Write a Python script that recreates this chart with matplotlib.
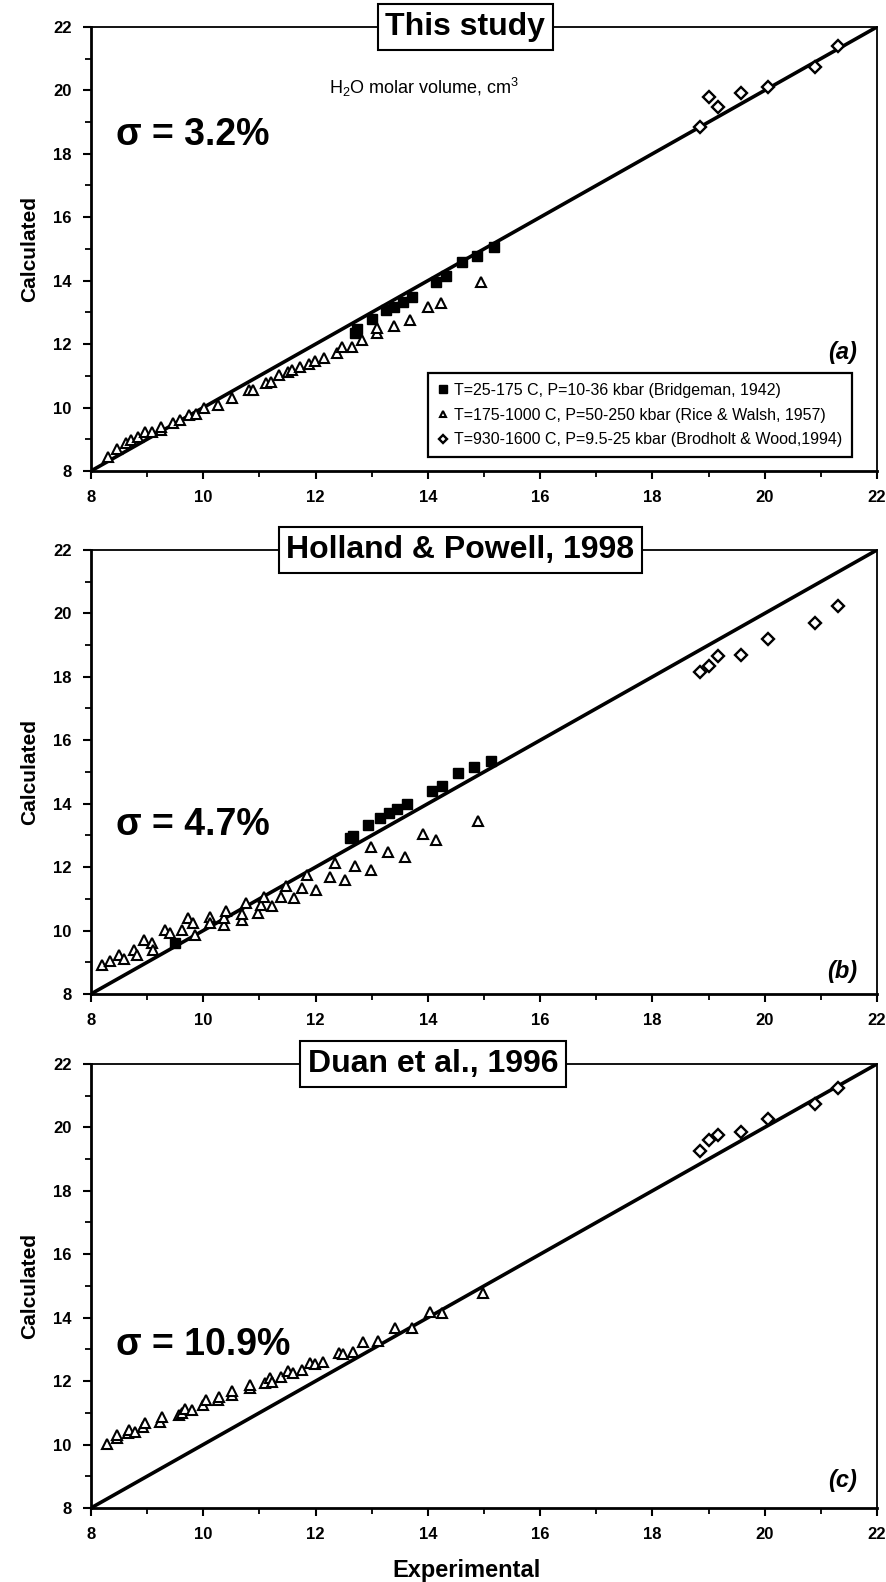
import numpy as np
import matplotlib
matplotlib.use("Agg")
import matplotlib.pyplot as plt
from matplotlib.ticker import MultipleLocator

plt.rcParams['font.family'] = ['Liberation Sans', 'DejaVu Sans']
plt.rcParams['mathtext.default'] = 'regular'

# // Experimental vs calculated H2O molar volume, cm3 //

# Bridgeman, 1942 (filled squares)
sq_x_a = [12.71, 12.74, 13.01, 13.25, 13.39, 13.56, 13.72, 14.15, 14.33, 14.6, 14.88, 15.18]
sq_y_a = [12.34, 12.47, 12.78, 13.08, 13.18, 13.34, 13.5, 13.97, 14.15, 14.58, 14.79, 15.05]
sq_x_b = [12.62, 12.66, 12.93, 13.15, 13.3, 13.45, 13.62, 14.07, 14.25, 14.53, 14.83, 15.13, 9.49]
sq_y_b = [12.91, 12.98, 13.33, 13.54, 13.72, 13.82, 13.99, 14.41, 14.56, 14.96, 15.17, 15.35, 9.62]

# Rice & Walsh, 1957 (open triangles)
tri_x_a = [8.3, 8.46, 8.63, 8.72, 8.84, 8.96, 9.08, 9.25, 9.25, 9.46, 9.58, 9.75, 9.87,
           10.02, 10.26, 10.52, 10.82, 10.88, 11.11, 11.2, 11.35, 11.5, 11.58, 11.73,
           11.88, 11.99, 12.15, 12.38, 12.47, 12.65, 12.83, 13.1, 13.1, 13.39, 13.68,
           14.01, 14.23, 14.94]
tri_y_a = [8.45, 8.7, 8.87, 8.98, 9.08, 9.22, 9.24, 9.3, 9.4, 9.5, 9.61, 9.76, 9.79,
           9.97, 10.08, 10.29, 10.55, 10.55, 10.76, 10.81, 11.03, 11.13, 11.18, 11.29,
           11.36, 11.47, 11.55, 11.71, 11.92, 11.92, 12.13, 12.34, 12.5, 12.57, 12.76,
           13.18, 13.31, 13.97]
tri_x_b = [8.2, 8.33, 8.5, 8.58, 8.76, 8.82, 8.94, 9.08, 9.11, 9.32, 9.4, 9.62, 9.73,
           9.82, 9.85, 10.12, 10.12, 10.36, 10.36, 10.4, 10.69, 10.69, 10.76, 10.97,
           11.02, 11.08, 11.23, 11.38, 11.47, 11.61, 11.76, 11.85, 12.01, 12.26, 12.35,
           12.52, 12.71, 12.99, 12.99, 13.29, 13.59, 13.92, 14.14, 14.9]
tri_y_b = [8.92, 9.05, 9.23, 9.1, 9.39, 9.23, 9.7, 9.6, 9.39, 10.02, 9.91, 10.02, 10.39,
           10.23, 9.86, 10.44, 10.23, 10.18, 10.39, 10.63, 10.33, 10.52, 10.86, 10.54,
           10.8, 11.07, 10.77, 11.07, 11.4, 11.01, 11.33, 11.75, 11.28, 11.68, 12.14,
           11.6, 12.03, 12.62, 11.92, 12.49, 12.33, 13.04, 12.85, 13.46]
tri_x_c = [8.28, 8.46, 8.47, 8.66, 8.67, 8.78, 8.93, 8.96, 9.23, 9.26, 9.56, 9.62, 9.67,
           9.79, 10.0, 10.05, 10.27, 10.28, 10.51, 10.52, 10.83, 10.84, 11.1, 11.18,
           11.22, 11.38, 11.51, 11.6, 11.75, 11.9, 11.99, 12.14, 12.41, 12.49, 12.66,
           12.85, 13.12, 13.42, 13.71, 14.03, 14.26, 14.98]
tri_y_c = [10.02, 10.2, 10.3, 10.35, 10.45, 10.4, 10.56, 10.67, 10.72, 10.88, 10.93,
           10.98, 11.11, 11.09, 11.25, 11.4, 11.4, 11.5, 11.56, 11.7, 11.77, 11.88, 11.93,
           12.09, 11.98, 12.14, 12.33, 12.25, 12.35, 12.58, 12.54, 12.61, 12.9, 12.85,
           12.93, 13.24, 13.27, 13.66, 13.66, 14.19, 14.16, 14.79]

# Brodholt & Wood, 1994 (open diamonds)
dia_x = [18.85, 19.0, 19.17, 19.58, 20.05, 20.9, 21.3]
dia_y_a = [18.85, 19.8, 19.48, 19.92, 20.12, 20.75, 21.4]
dia_y_b = [18.15, 18.35, 18.65, 18.7, 19.2, 19.7, 20.22]
dia_y_c = [19.25, 19.6, 19.75, 19.85, 20.25, 20.75, 21.25]

titles = ['This study', 'Holland & Powell, 1998', 'Duan et al., 1996']
title_x = [0.476, 0.47, 0.435]
sigmas = ['3.2%', '4.7%', '10.9%']
sigma_y = [18.6, 13.33, 13.14]
letters = ['(a)', '(b)', '(c)']
letter_y = [11.72, 8.72, 8.88]

panels = [
    (sq_x_a, sq_y_a, tri_x_a, tri_y_a, dia_y_a),
    (sq_x_b, sq_y_b, tri_x_b, tri_y_b, dia_y_b),
    ([], [], tri_x_c, tri_y_c, dia_y_c),
]

fig = plt.figure(figsize=(8.87, 15.82), dpi=100)
bottoms = [0.7023, 0.3717, 0.0468]
height = 0.2807

for i, (sx, sy, tx, ty, dy) in enumerate(panels):
    ax = fig.add_axes([0.1026, bottoms[i], 0.8862, height])
    ax.plot([8, 22], [8, 22], color='black', lw=2.6, zorder=2)
    ax.plot(sx, sy, 's', color='black', ms=7.5, zorder=3,
            label='T=25-175 C, P=10-36 kbar (Bridgeman, 1942)')
    ax.plot(tx, ty, '^', mfc='white', mec='black', mew=1.5, ms=7, zorder=3,
            label='T=175-1000 C, P=50-250 kbar (Rice & Walsh, 1957)')
    ax.plot(dia_x, dy, 'D', mfc='white', mec='black', mew=1.7, ms=6.3, zorder=3,
            label='T=930-1600 C, P=9.5-25 kbar (Brodholt & Wood,1994)')

    ax.set_xlim(8, 22)
    ax.set_ylim(8, 22)
    ax.xaxis.set_major_locator(MultipleLocator(2))
    ax.xaxis.set_minor_locator(MultipleLocator(1))
    ax.yaxis.set_major_locator(MultipleLocator(2))
    ax.yaxis.set_minor_locator(MultipleLocator(1))
    ax.tick_params(which='major', direction='out', length=6, width=1.5, pad=8)
    ax.tick_params(which='minor', direction='out', length=4, width=1.3)
    for lab in ax.get_xticklabels() + ax.get_yticklabels():
        lab.set_fontweight('bold')
        lab.set_fontsize(12)
    ax.spines['left'].set_linewidth(2)
    ax.spines['bottom'].set_linewidth(2)
    ax.spines['top'].set_linewidth(1.3)
    ax.spines['right'].set_linewidth(1.3)

    ax.set_ylabel('Calculated', fontsize=15, fontweight='bold', labelpad=10)

    ax.text(title_x[i], 1.0, titles[i], transform=ax.transAxes, ha='center',
            va='center', fontsize=23, fontweight='bold', zorder=5,
            bbox=dict(boxstyle='square,pad=0.24', fc='white', ec='black', lw=1.5))
    ax.text(8.45, sigma_y[i], '\u03c3 = ' + sigmas[i], fontsize=27,
            fontweight='bold', ha='left', va='center')
    ax.text(21.65, letter_y[i], letters[i], fontsize=17, fontweight='bold',
            style='italic', ha='right', va='center')

    if i == 0:
        ax.text(13.93, 20.08, r'H$_2$O molar volume, cm$^3$', fontsize=13,
                ha='center', va='center')
        leg = ax.legend(loc='lower right', bbox_to_anchor=(0.978, 0.014),
                        fontsize=11.5, frameon=True, fancybox=False,
                        edgecolor='black', framealpha=1, handlelength=0.6,
                        handletextpad=0.4, markerscale=0.7, borderpad=0.6,
                        labelspacing=0.6, numpoints=1)
        leg.get_frame().set_linewidth(1.6)
    if i == 2:
        ax.set_xlabel('Experimental', fontsize=17, fontweight='bold')
        ax.xaxis.set_label_coords(0.478, -0.115)

fig.savefig('out.png', dpi=100)
